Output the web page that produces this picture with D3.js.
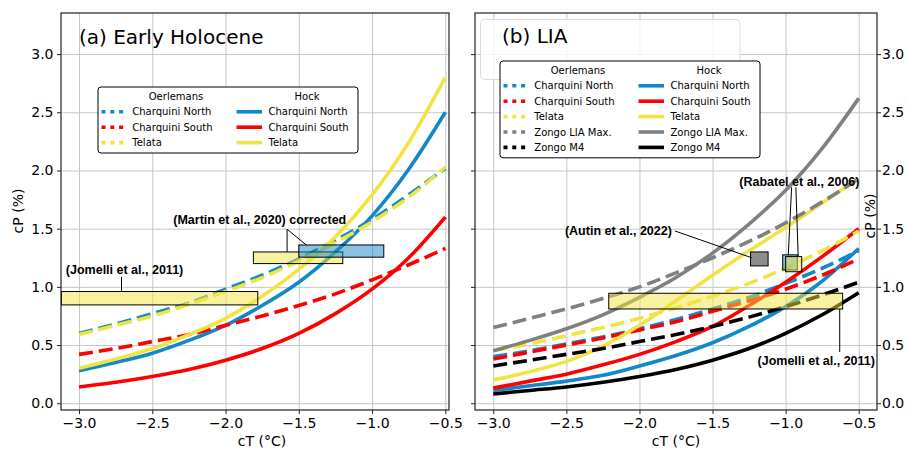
<!DOCTYPE html>
<html>
<head>
<meta charset="utf-8">
<script src="https://cdn.jsdelivr.net/npm/d3@7"></script>
<style>
body{margin:0;background:#fff;}
svg{display:block;font-family:"DejaVu Sans",sans-serif;}
.grid line{stroke:#c6c6c6;stroke-width:1;}
.grid path{display:none;}
.axis path{display:none;}
.axis line{stroke:#222;}
.axis text{font-size:14px;fill:#000;font-family:"DejaVu Sans",sans-serif;}
.ann{font-family:"Liberation Sans",Arial,sans-serif;font-weight:bold;font-size:12.5px;}
.leg{font-size:10px;}
</style>
</head>
<body>
<div id="chart"></div>
<script>

// x values of every curve (cT, °C)
const cT = [-3.0,-2.75,-2.5,-2.25,-2.0,-1.75,-1.5,-1.25,-1.0,-0.75,-0.5];
const xTicks = [-3.0,-2.5,-2.0,-1.5,-1.0,-0.5];
const yTicks = [0.0,0.5,1.0,1.5,2.0,2.5,3.0];

// (a) Early Holocene, cP (%)
const ehOerCN  = [0.60,0.68,0.77,0.86,0.98,1.10,1.24,1.40,1.58,1.79,2.02];
const ehHockCN = [0.28,0.35,0.43,0.54,0.67,0.84,1.04,1.30,1.61,2.01,2.50];
const ehOerCS  = [0.42,0.47,0.53,0.59,0.67,0.75,0.84,0.94,1.06,1.19,1.33];
const ehHockCS = [0.14,0.18,0.23,0.29,0.37,0.47,0.60,0.77,0.98,1.25,1.60];
const ehOerTel = [0.59,0.67,0.75,0.85,0.96,1.08,1.22,1.38,1.56,1.77,2.03];
const ehHockTel= [0.30,0.38,0.47,0.59,0.73,0.92,1.15,1.43,1.79,2.24,2.80];

// (b) LIA, cP (%)
const liaOerCN   = [0.40,0.45,0.51,0.57,0.64,0.72,0.81,0.91,1.03,1.16,1.31];
const liaHockCN  = [0.11,0.15,0.19,0.24,0.32,0.41,0.52,0.66,0.83,1.05,1.33];
const liaOerCS   = [0.38,0.44,0.50,0.56,0.63,0.70,0.79,0.88,0.98,1.10,1.24];
const liaHockCS  = [0.13,0.19,0.25,0.33,0.42,0.53,0.66,0.84,1.04,1.26,1.50];
const liaOerTel  = [0.45,0.51,0.58,0.65,0.73,0.82,0.92,1.03,1.16,1.31,1.48];
const liaHockTel = [0.20,0.27,0.36,0.49,0.67,0.88,1.10,1.31,1.51,1.72,1.93];
const liaOerMax  = [0.65,0.73,0.81,0.90,1.00,1.12,1.25,1.39,1.55,1.73,1.93];
const liaHockMax = [0.45,0.54,0.64,0.76,0.91,1.08,1.29,1.54,1.83,2.19,2.62];
const liaOerM4   = [0.32,0.37,0.42,0.47,0.53,0.59,0.66,0.74,0.83,0.93,1.04];
const liaHockM4  = [0.08,0.11,0.14,0.18,0.23,0.29,0.37,0.47,0.60,0.76,0.95];

// observation boxes [cT0, cT1, cP0, cP1]
const ehJomelli   = [-3.12,-1.78,0.845,0.96];
const ehMartinY   = [-1.81,-1.20,1.20,1.30];
const ehMartinB   = [-1.50,-0.92,1.255,1.36];
const liaJomelli  = [-2.21,-0.61,0.81,0.945];
const liaAutin    = [-1.24,-1.12,1.18,1.30];
const liaRabatelB = [-1.02,-0.92,1.145,1.275];
const liaRabatelY = [-1.00,-0.89,1.13,1.26];

const C = {cn:"#1188c9", cs:"#ff0000", tel:"#f0e442", max:"#808080", m4:"#000000"};
const boxYellow = "#f0e442", boxBlue = "#1188c9";

const ehSeries = [
{site:"Charquini North",dash:ehOerCN,solid:ehHockCN,color:C.cn},
{site:"Charquini South",dash:ehOerCS,solid:ehHockCS,color:C.cs},
{site:"Telata",dash:ehOerTel,solid:ehHockTel,color:C.tel}
];
const liaSeries = [
{site:"Charquini North",dash:liaOerCN,solid:liaHockCN,color:C.cn},
{site:"Charquini South",dash:liaOerCS,solid:liaHockCS,color:C.cs},
{site:"Telata",dash:liaOerTel,solid:liaHockTel,color:C.tel},
{site:"Zongo LIA Max.",dash:liaOerMax,solid:liaHockMax,color:C.max},
{site:"Zongo M4",dash:liaOerM4,solid:liaHockM4,color:C.m4}
];

const width = 907, height = 450;
const plotTop = 13, plotBottom = 410;

const svg = d3.select("#chart").append("svg")
.attr("width",width)
.attr("height",height);

const y = d3.scaleLinear().domain([-0.058,3.353]).range([plotBottom,plotTop]);
const xA = d3.scaleLinear().domain([-3.123,-0.475]).range([61,449]);
const xB = d3.scaleLinear().domain([-3.125,-0.375]).range([475,877]);

function grid(x){
svg.append("g").attr("class","grid")
.attr("transform",`translate(0,${plotBottom})`)
.call(d3.axisBottom(x).tickValues(xTicks).tickSize(-(plotBottom-plotTop)).tickFormat(""));
svg.append("g").attr("class","grid")
.attr("transform",`translate(${x.range()[0]},0)`)
.call(d3.axisLeft(y).tickValues(yTicks).tickSize(-(x.range()[1]-x.range()[0])).tickFormat(""));
}

function curves(x,series){
const line = d3.line().x((d,i)=>x(cT[i])).y(d=>y(d)).curve(d3.curveMonotoneX);
series.forEach(s=>{
svg.append("path").datum(s.dash)
.attr("fill","none").attr("stroke",s.color).attr("stroke-width",3.6)
.attr("stroke-dasharray","14,6").attr("d",line);
svg.append("path").datum(s.solid)
.attr("fill","none").attr("stroke",s.color).attr("stroke-width",3.6)
.attr("d",line);
});
}

function box(x,b,color,op){
svg.append("rect")
.attr("x",x(b[0])).attr("y",y(b[3]))
.attr("width",x(b[1])-x(b[0])).attr("height",y(b[2])-y(b[3]))
.attr("fill",color).attr("fill-opacity",op)
.attr("stroke","#000").attr("stroke-width",1);
}

function leader(x,pts){
svg.append("path")
.attr("d",d3.line().x(d=>x(d[0])).y(d=>y(d[1]))(pts))
.attr("fill","none").attr("stroke","#000").attr("stroke-width",1);
}

function label(x,px,py,txt,anchor){
svg.append("text").attr("class","ann")
.attr("x",x(px)).attr("y",y(py))
.attr("text-anchor",anchor||"start")
.text(txt);
}

function legend(x0,y0,series){
const g = svg.append("g").attr("class","leg");
const h = 66+(series.length-3)*15.4;
g.append("rect").attr("x",x0).attr("y",y0).attr("width",260).attr("height",h)
.attr("rx",3).attr("fill","#fff").attr("stroke","#000").attr("stroke-width",1);
g.append("text").attr("x",x0+78).attr("y",y0+12.5).attr("text-anchor","middle").text("Oerlemans");
g.append("text").attr("x",x0+209).attr("y",y0+12.5).attr("text-anchor","middle").text("Hock");
series.forEach((s,i)=>{
const cy = y0+24.8+i*15.4;
g.append("line").attr("x1",x0+3.5).attr("x2",x0+25.5).attr("y1",cy).attr("y2",cy)
.attr("stroke",s.color).attr("stroke-width",3.6).attr("stroke-dasharray","4,4.8");
g.append("text").attr("x",x0+34.3).attr("y",cy+3.6).text(s.site);
g.append("line").attr("x1",x0+138.5).attr("x2",x0+164).attr("y1",cy).attr("y2",cy)
.attr("stroke",s.color).attr("stroke-width",3.6);
g.append("text").attr("x",x0+170.5).attr("y",cy+3.6).text(s.site);
});
}

function frame(x){
svg.append("rect")
.attr("x",x.range()[0]).attr("y",plotTop)
.attr("width",x.range()[1]-x.range()[0]).attr("height",plotBottom-plotTop)
.attr("fill","none").attr("stroke","#222").attr("stroke-width",1.2);
svg.append("g").attr("class","axis")
.attr("transform",`translate(0,${plotBottom})`)
.call(d3.axisBottom(x).tickValues(xTicks).tickSize(4).tickPadding(4.5).tickFormat(d3.format(".1f")));
}

////////////////////////////////////////////////
//// (a) EARLY HOLOCENE
////////////////////////////////////////////////

grid(xA);
curves(xA,ehSeries);

// BOXES
box(xA,ehJomelli,boxYellow,0.5);
box(xA,ehMartinY,boxYellow,0.5);
box(xA,ehMartinB,boxBlue,0.5);

// ANNOTATIONS
leader(xA,[[-2.71,1.085],[-2.71,0.96]]);
label(xA,-3.09,1.11,"(Jomelli et al., 2011)");
leader(xA,[[-1.449,1.36],[-1.58,1.495],[-1.58,1.30]]);
label(xA,-2.357,1.536,"(Martin et al., 2020) corrected");

legend(98,87,ehSeries);
frame(xA);

svg.append("g").attr("class","axis")
.attr("transform",`translate(${xA.range()[0]},0)`)
.call(d3.axisLeft(y).tickValues(yTicks).tickSize(4).tickPadding(3.5).tickFormat(d3.format(".1f")));

svg.append("text")
.attr("x",79).attr("y",44)
.attr("font-size",20)
.text("(a) Early Holocene");

// LABELS
svg.append("text")
.attr("x",262).attr("y",446)
.attr("text-anchor","middle").attr("font-size",14)
.text("cT (°C)");
svg.append("text")
.attr("transform","translate(23,211) rotate(-90)")
.attr("text-anchor","middle").attr("font-size",14)
.text("cP (%)");

////////////////////////////////////////////////
//// (b) LIA
////////////////////////////////////////////////

grid(xB);

// faint frame behind the panel title
svg.append("rect")
.attr("x",480.5).attr("y",19.5).attr("width",259.5).attr("height",60)
.attr("rx",4).attr("fill","#fff").attr("fill-opacity",0.8)
.attr("stroke","#dadada").attr("stroke-width",1);

curves(xB,liaSeries);

// BOXES
box(xB,liaJomelli,boxYellow,0.5);
box(xB,liaAutin,"#808080",0.9);
box(xB,liaRabatelB,boxBlue,0.5);
box(xB,liaRabatelY,boxYellow,0.5);

// ANNOTATIONS
leader(xB,[[-0.63,0.81],[-0.63,0.44]]);
label(xB,-0.389,0.33,"(Jomelli et al., 2011)","end");
leader(xB,[[-1.757,1.48],[-1.232,1.25]]);
label(xB,-1.778,1.446,"(Autin et al., 2022)","end");
leader(xB,[[-0.959,1.856],[-0.982,1.275]]);
leader(xB,[[-0.93,1.856],[-0.914,1.26]]);
label(xB,-1.317,1.863,"(Rabatel et al., 2006)");

legend(500,61,liaSeries);
frame(xB);

svg.append("g").attr("class","axis")
.attr("transform",`translate(${xB.range()[1]},0)`)
.call(d3.axisRight(y).tickValues(yTicks).tickSize(4).tickPadding(1).tickFormat(d3.format(".1f")));
svg.append("g").attr("class","axis")
.attr("transform",`translate(${xB.range()[0]},0)`)
.call(d3.axisLeft(y).tickValues(yTicks).tickSize(4).tickFormat(""));

svg.append("text")
.attr("x",502).attr("y",43)
.attr("font-size",20)
.text("(b) LIA");

// LABELS
svg.append("text")
.attr("x",676).attr("y",446)
.attr("text-anchor","middle").attr("font-size",14)
.text("cT (°C)");
svg.append("text")
.attr("transform","translate(875,216) rotate(-90)")
.attr("text-anchor","middle").attr("font-size",14)
.text("cP (%)");

</script>
</body>
</html>
